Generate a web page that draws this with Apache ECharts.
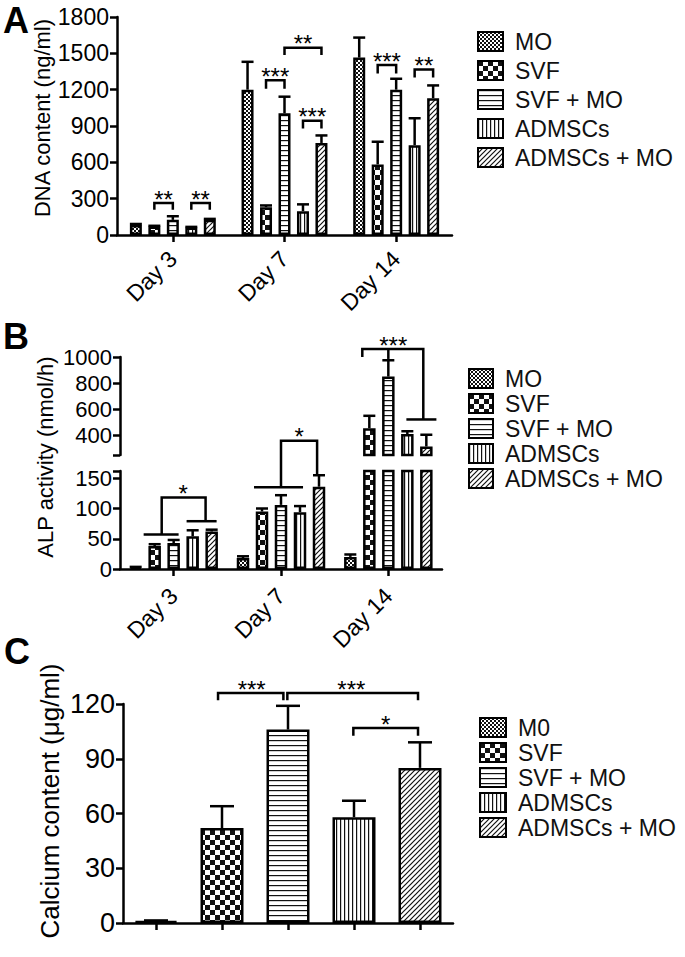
<!DOCTYPE html>
<html><head><meta charset="utf-8">
<script src="https://cdn.jsdelivr.net/npm/echarts@6/dist/echarts.min.js"></script>
<style>html,body{margin:0;padding:0;background:#fff}#c{width:685px;height:957px}</style>
</head><body><div id="c"></div>
<script>
// ---------------- DATA ----------------
const categories = ['Day 3', 'Day 7', 'Day 14'];
const groupNames = ['MO', 'SVF', 'SVF + MO', 'ADMSCs', 'ADMSCs + MO'];
const groupNamesC = ['M0', 'SVF', 'SVF + MO', 'ADMSCs', 'ADMSCs + MO'];

// Panel A: DNA content (ng/ml), values per day
const dnaMO = [83, 1200, 1465];
const dnaSVF = [70, 230, 583];
const dnaSVFMO = [125, 1005, 1200];
const dnaADMSC = [62, 197, 742];
const dnaADMSCMO = [125, 760, 1130];
const dnaErrMO = [8, 230, 165];
const dnaErrSVF = [6, 14, 187];
const dnaErrSVFMO = [30, 137, 90];
const dnaErrADMSC = [5, 56, 222];
const dnaErrADMSCMO = [8, 62, 105];
const dnaAxis = {min: 0, max: 1800, interval: 300};

// Panel B: ALP activity (nmol/h), values per day
const alpMO = [3, 18, 20];
const alpSVF = [38, 95, 455];
const alpSVFMO = [43, 106, 850];
const alpADMSC = [54, 94, 410];
const alpADMSCMO = [62, 136, 315];
const alpErrMO = [0.5, 3, 4];
const alpErrSVF = [3, 5, 95];
const alpErrSVFMO = [5, 16, 125];
const alpErrADMSC = [10, 10, 22];
const alpErrADMSCMO = [3, 19, 90];
const alpLowRange = [0, 162];
const alpHighRange = [250, 1000];
const alpLowLabels = [0, 50, 100, 150];
const alpHighLabels = [400, 600, 800, 1000];

// Panel C: Calcium content (μg/ml)
const calcium = [1, 52, 106, 58, 85];
const calciumErr = [0.4, 12, 13, 9, 14];
const calAxis = {min: 0, max: 120, interval: 30};

// Significance brackets: points are [category, bar slot (0-4), value]
const sigA = [
  {path: [[0,1,208],[0,1,264],[0,2,264],[0,2,208]], text: '**', at: [0,1.5,264]},
  {path: [[0,3,208],[0,3,264],[0,4,264],[0,4,208]], text: '**', at: [0,3.5,264]},
  {path: [[1,1,1208],[1,1,1278],[1,2,1278],[1,2,1208]], text: '***', at: [1,1.5,1278]},
  {path: [[1,2,1486],[1,2,1547],[1,4,1547],[1,4,1486]], text: '**', at: [1,3,1547]},
  {path: [[1,3,880],[1,3,944],[1,4,944],[1,4,880]], text: '***', at: [1,3.5,944]},
  {path: [[2,1,1333],[2,1,1403],[2,2,1403],[2,2,1333]], text: '***', at: [2,1.5,1403]},
  {path: [[2,3,1300],[2,3,1367],[2,4,1367],[2,4,1300]], text: '**', at: [2,3.5,1367]}
];
const sigBLow = [
  {path: [[0,0.42,57],[0,2.26,57]]},
  {path: [[0,2.68,79],[0,4.26,79]]},
  {path: [[0,1.37,57],[0,1.37,118],[0,3.68,118],[0,3.68,79]], text: '*', at: [0,2.5,118]},
  {path: [[1,0.58,135],[1,3.16,135]]},
  {path: [[1,2,135],[1,2,212],[1,3.9,212],[1,3.9,155]], text: '*', at: [1,2.95,212]}
];
const sigBHigh = [
  {path: [[2,0.63,1000],[2,0.63,1061],[2,3.84,1061],[2,3.84,522]], text: '***', at: [2,2.26,1061]},
  {path: [[2,2,1061],[2,2,985]]},
  {path: [[2,2.95,522],[2,4.53,522]]}
];
const sigC = [
  {path: [[0.94,2,122],[0.94,2,126],[1.93,2,126],[1.93,2,122]], text: '***', at: [1.45,2,126]},
  {path: [[1.99,2,122],[1.99,2,126],[3.97,2,126],[3.97,2,122]], text: '***', at: [2.96,2,126]},
  {path: [[2.99,2,102.6],[2.99,2,106.8],[3.97,2,106.8],[3.97,2,102.6]], text: '*', at: [3.48,2,106.8]}
];

// ---------------- STYLE ----------------
const FONT = '"Liberation Sans", Arial, Helvetica, sans-serif';
const INK = '#000';

function tile(kind) {
  const c = document.createElement('canvas');
  const ctx = c.getContext('2d');
  let w = 4, h = 4;
  if (kind === 'fine') { w = 4; h = 4; }
  if (kind === 'check') { w = 10; h = 10; }
  if (kind === 'hline') { w = 4; h = 5; }
  if (kind === 'vline') { w = 4; h = 4; }
  if (kind === 'diag') { w = 5; h = 5; }
  c.width = w; c.height = h;
  ctx.fillStyle = '#fff'; ctx.fillRect(0, 0, w, h);
  ctx.fillStyle = '#111'; ctx.strokeStyle = '#111';
  if (kind === 'fine') { ctx.fillRect(0,0,2,2); ctx.fillRect(2,2,2,2); }
  if (kind === 'check') { ctx.fillRect(0,0,5,5); ctx.fillRect(5,5,5,5); }
  if (kind === 'hline') { ctx.fillRect(0,0,w,1.2); }
  if (kind === 'vline') { ctx.fillRect(0,0,1.2,h); }
  if (kind === 'diag') {
    ctx.lineWidth = 1.2;
    ctx.beginPath();
    ctx.moveTo(-1, h + 1); ctx.lineTo(w + 1, -1);
    ctx.moveTo(-1, 1); ctx.lineTo(1, -1);
    ctx.moveTo(w - 1, h + 1); ctx.lineTo(w + 1, h - 1);
    ctx.stroke();
  }
  return {image: c, repeat: 'repeat'};
}
const patterns = [tile('fine'), tile('check'), tile('hline'), tile('vline'), tile('diag')];

const dnaVals = [dnaMO, dnaSVF, dnaSVFMO, dnaADMSC, dnaADMSCMO];
const dnaErrs = [dnaErrMO, dnaErrSVF, dnaErrSVFMO, dnaErrADMSC, dnaErrADMSCMO];
const alpVals = [alpMO, alpSVF, alpSVFMO, alpADMSC, alpADMSCMO];
const alpErrs = [alpErrMO, alpErrSVF, alpErrSVFMO, alpErrADMSC, alpErrADMSCMO];

const BW_A = 12, GAP_A = 0.54, STEP_A = BW_A * (1 + GAP_A);
const BW_B = 12.5, GAP_B = 0.52, STEP_B = BW_B * (1 + GAP_B);
const BW_C = 43;
const BORDER = 2.5;

function slotX(api, cat, slot, step) {
  const x0 = api.coord([0, 0])[0];
  const band = api.size([1, 0])[0];
  return x0 + cat * band + (slot - 2) * step;
}
function errSeries(rows, step, cap, xi, yi) {
  return {
    type: 'custom', xAxisIndex: xi, yAxisIndex: yi, z: 4, silent: true,
    data: rows.map(r => [r[0], r[2] + r[3]]),
    renderItem: function (params, api) {
      const r = rows[params.dataIndex];
      const x = slotX(api, r[0], r[1], step);
      const y1 = api.coord([0, r[2]])[1];
      const y2 = api.coord([0, r[2] + r[3]])[1];
      const st = {stroke: INK, lineWidth: 2.5};
      return {type: 'group', children: [
        {type: 'line', shape: {x1: x, y1: y1, x2: x, y2: y2}, style: st},
        {type: 'line', shape: {x1: x - cap / 2, y1: y2, x2: x + cap / 2, y2: y2}, style: st}
      ]};
    }
  };
}
function sigSeries(list, step, xi, yi, fontSize) {
  return {
    type: 'custom', xAxisIndex: xi, yAxisIndex: yi, z: 5, silent: true,
    data: list.map(b => [b.path[0][0], b.path[0][2]]),
    renderItem: function (params, api) {
      const b = list[params.dataIndex];
      const toPx = p => [slotX(api, p[0], p[1], step), api.coord([0, p[2]])[1]];
      const children = [{type: 'polyline', shape: {points: b.path.map(toPx)},
        style: {stroke: INK, lineWidth: 2.5, fill: null}}];
      if (b.text) {
        const q = toPx(b.at);
        children.push({type: 'text', x: q[0], y: q[1] - 4, style: {
          text: b.text, fill: INK, font: fontSize + 'px ' + FONT,
          align: 'center', verticalAlign: 'middle', textAlign: 'center', textVerticalAlign: 'middle'}});
      }
      return {type: 'group', children: children};
    }
  };
}

const rowsA = [];
dnaVals.forEach((arr, s) => arr.forEach((v, c) => rowsA.push([c, s, v, dnaErrs[s][c]])));
const rowsB = [];
alpVals.forEach((arr, s) => arr.forEach((v, c) => rowsB.push([c, s, v, alpErrs[s][c]])));
const rowsBLow = rowsB.filter(r => r[2] + r[3] <= alpLowRange[1]);
const rowsBHigh = rowsB.filter(r => r[2] >= alpHighRange[0]);
const rowsC = calcium.map((v, c) => [c, 2, v, calciumErr[c]]);

const axisLineStyle = {show: true, lineStyle: {color: INK, width: 2.5}};
const tickStyle = {show: true, length: 7, lineStyle: {color: INK, width: 2.5}};
const plain = v => String(v);

function catAxis(grid, data, showLabel, fontSize, margin) {
  return {
    type: 'category', gridIndex: grid, data: data,
    axisLine: axisLineStyle, axisTick: Object.assign({alignWithLabel: true}, tickStyle),
    axisLabel: {show: showLabel, rotate: 45, margin: margin, color: INK, fontSize: fontSize, fontFamily: FONT}
  };
}

const series = [];
// Panel A bars
groupNames.forEach((name, s) => series.push({
  type: 'bar', name: name, xAxisIndex: 0, yAxisIndex: 0, data: dnaVals[s],
  barWidth: BW_A, barGap: (GAP_A * 100) + '%',
  itemStyle: {color: patterns[s], borderColor: INK, borderWidth: BORDER}
}));
series.push(errSeries(rowsA, STEP_A, 12, 0, 0));
series.push(sigSeries(sigA, STEP_A, 0, 0, 24));
// Panel B bars (top and bottom segments)
[1, 2].forEach(gi => groupNames.forEach((name, s) => series.push({
  type: 'bar', name: name, xAxisIndex: gi, yAxisIndex: gi, data: alpVals[s],
  barWidth: BW_B, barGap: (GAP_B * 100) + '%',
  itemStyle: {color: patterns[s], borderColor: INK, borderWidth: BORDER}
})));
series.push(errSeries(rowsBHigh, STEP_B, 12, 1, 1));
series.push(errSeries(rowsBLow, STEP_B, 12, 2, 2));
series.push(sigSeries(sigBHigh, STEP_B, 1, 1, 24));
series.push(sigSeries(sigBLow, STEP_B, 2, 2, 24));
// Panel C bars
groupNamesC.forEach((name, s) => series.push({
  type: 'bar', name: name, xAxisIndex: 3, yAxisIndex: 3,
  data: calcium.map((v, c) => c === s ? v : '-'),
  barWidth: BW_C, barGap: '-100%',
  itemStyle: {color: patterns[s], borderColor: INK, borderWidth: BORDER}
}));
series.push(errSeries(rowsC, 0, 24, 3, 3));
series.push(sigSeries(sigC, 0, 3, 3, 24));

function legend(data, left, top, iw, ih, gap) {
  return {
    data: data, orient: 'vertical', left: left, top: top, icon: 'rect',
    itemWidth: iw, itemHeight: ih, itemGap: gap, selectedMode: false,
    itemStyle: {borderColor: INK, borderWidth: 2},
    textStyle: {color: '#111', fontSize: 23, fontFamily: FONT, padding: [0, 0, 0, 7]}
  };
}
function gtext(text, x, y, size, bold, rot) {
  return {type: 'text', x: x, y: y, rotation: rot || 0, silent: true, style: {
    text: text, fill: INK, font: (bold ? 'bold ' : '') + size + 'px ' + FONT,
    align: 'center', verticalAlign: 'middle', textAlign: 'center', textVerticalAlign: 'middle'}};
}

const option = {
  animation: false,
  backgroundColor: '#fff',
  grid: [
    {left: 117, top: 17, width: 335, height: 218},
    {left: 120, top: 357, width: 322, height: 98},
    {left: 120, top: 471, width: 322, height: 98},
    {left: 123, top: 704, width: 330, height: 219}
  ],
  xAxis: [
    catAxis(0, categories, true, 23, 20),
    Object.assign(catAxis(1, categories, false, 23, 20), {show: false}),
    catAxis(2, categories, true, 23, 23),
    catAxis(3, groupNamesC, false, 23, 20)
  ],
  yAxis: [
    {type: 'value', gridIndex: 0, min: dnaAxis.min, max: dnaAxis.max, interval: dnaAxis.interval,
     splitLine: {show: false}, axisLine: axisLineStyle, axisTick: tickStyle,
     axisLabel: {formatter: plain, color: INK, fontSize: 23, fontFamily: FONT, margin: 8}},
    {type: 'value', gridIndex: 1, min: alpHighRange[0], max: alpHighRange[1],
     splitLine: {show: false}, axisLine: axisLineStyle,
     axisTick: Object.assign({customValues: [alpHighRange[0]].concat(alpHighLabels)}, tickStyle),
     axisLabel: {customValues: alpHighLabels, formatter: plain, color: INK, fontSize: 22, fontFamily: FONT, margin: 8}},
    {type: 'value', gridIndex: 2, min: alpLowRange[0], max: alpLowRange[1],
     splitLine: {show: false}, axisLine: axisLineStyle,
     axisTick: Object.assign({customValues: alpLowLabels.concat([alpLowRange[1]])}, tickStyle),
     axisLabel: {customValues: alpLowLabels, formatter: plain, color: INK, fontSize: 22, fontFamily: FONT, margin: 8}},
    {type: 'value', gridIndex: 3, min: calAxis.min, max: calAxis.max, interval: calAxis.interval,
     splitLine: {show: false}, axisLine: axisLineStyle, axisTick: tickStyle,
     axisLabel: {formatter: plain, color: INK, fontSize: 27, fontFamily: FONT, margin: 8}}
  ],
  legend: [
    legend(groupNames, 472, 25, 25, 19, 6),
    legend(groupNames, 463, 362, 24, 19, 2),
    legend(groupNamesC, 474, 711, 26, 19, 2)
  ],
  graphic: [
    gtext('A', 16, 20, 36, true),
    gtext('B', 16, 336, 36, true),
    gtext('C', 17, 651, 36, true),
    gtext('DNA content (ng/ml)', 42, 118, 22, false, Math.PI / 2),
    gtext('ALP activity (nmol/h)', 45, 457, 22, false, Math.PI / 2),
    gtext('Calcium content (μg/ml)', 50, 801, 26, false, Math.PI / 2)
  ],
  series: series
};

const chart = echarts.init(document.getElementById('c'), null, {renderer: 'svg'});
chart.setOption(option);
</script></body></html>
